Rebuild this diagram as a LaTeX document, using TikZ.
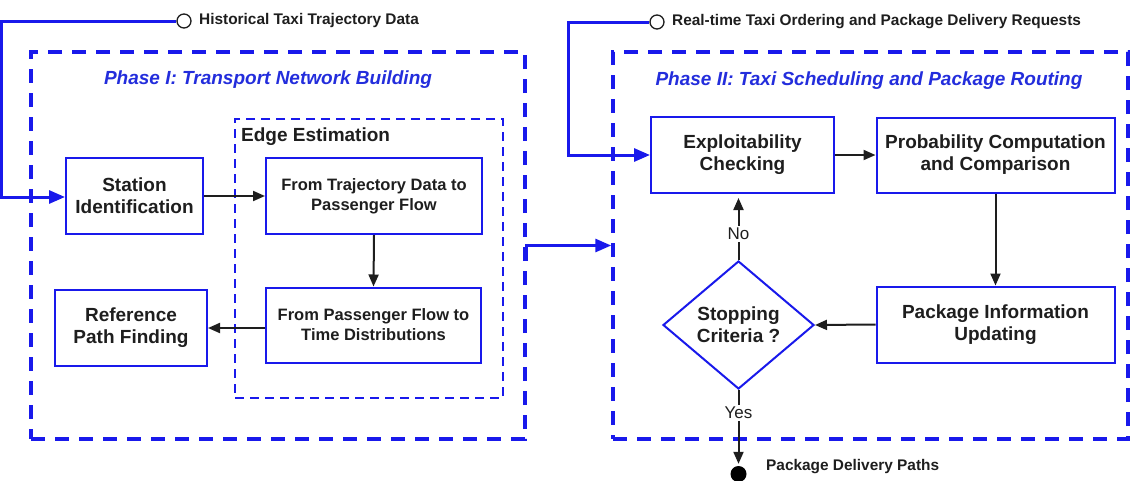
\documentclass[tikz,border=0pt]{standalone}
\usepackage{fontspec}
\setmainfont{Liberation Sans}
\usetikzlibrary{arrows.meta,calc,shapes.geometric}
\definecolor{bl}{RGB}{25,25,235}
\definecolor{tl}{RGB}{35,45,220}
\definecolor{tx}{RGB}{30,30,30}
\begin{document}
\begin{tikzpicture}[x=1pt,y=-1pt,
  box/.style={draw=bl,line width=2pt,rectangle,align=center,text=tx,
    font=\fontsize{19}{22}\selectfont\bfseries,inner sep=0pt},
  sbox/.style={box,font=\fontsize{16.5}{20}\selectfont\bfseries},
  phasebox/.style={draw=bl,line width=3.5pt,dash pattern=on 14pt off 10pt,rectangle,inner sep=0pt},
  edgebox/.style={draw=bl,line width=2.6pt,dash pattern=on 9pt off 6pt,rectangle,inner sep=0pt},
  conn/.style={draw=bl,line width=3pt,-{Triangle[length=16pt,width=13pt]}},
  arr/.style={draw=tx,line width=2pt,-{Triangle[length=12pt,width=10pt]}},
  lab/.style={text=tx,font=\fontsize{15.4}{18}\selectfont\bfseries,anchor=west,inner sep=0pt},
  ttl/.style={text=tl,font=\fontsize{19}{22}\selectfont\bfseries\itshape,inner sep=0pt},
  yn/.style={text=tx,font=\fontsize{17}{20}\selectfont,fill=white,inner sep=2pt},
  port/.style={circle,draw=tx,line width=1.3pt,fill=white,minimum size=14pt,inner sep=0pt}
]
\useasboundingbox (0,0) rectangle (1138,480);

% phase containers
\node[phasebox,minimum width=494pt,minimum height=387pt] (phase1) at (278,245.5) {};
\node[phasebox,minimum width=515pt,minimum height=387pt] (phase2) at (870.5,245.5) {};
\node[edgebox,minimum width=268pt,minimum height=279pt] (edge) at (369,258.5) {};

\node[ttl] (t1) at (268,80) {Phase I: Transport Network Building};
\node[ttl] (t2) at (869,81) {Phase II: Taxi Scheduling and Package Routing};
\node[text=tx,font=\fontsize{19}{22}\selectfont\bfseries,anchor=west,inner sep=0pt] (et) at (241,137) {Edge Estimation};

% phase I boxes
\node[box,minimum width=137pt,minimum height=76pt] (station) at (134.5,196) {Station\\Identification};
\node[sbox,minimum width=216pt,minimum height=76pt] (traj) at (374,196) {From Trajectory Data to\\Passenger Flow};
\node[sbox,minimum width=215pt,minimum height=75pt] (pass) at (373.5,325) {From Passenger Flow to\\Time Distributions};
\node[box,minimum width=152pt,minimum height=76pt] (ref) at (131,328) {Reference\\Path Finding};

% phase II boxes
\node[box,minimum width=183pt,minimum height=76pt] (expl) at (742.5,155) {Exploitability\\Checking};
\node[box,minimum width=238pt,minimum height=75pt] (prob) at (995.5,155) {Probability Computation\\and Comparison};
\node[box,minimum width=238pt,minimum height=76pt] (pkg) at (995.5,324.5) {Package Information\\Updating};
\node[diamond,draw=bl,line width=2pt,align=center,text=tx,font=\fontsize{19}{22}\selectfont\bfseries,
  inner sep=0pt,aspect=1.18,minimum width=151pt,minimum height=128pt] (stop) at (738.5,325) {Stopping\\Criteria ?};

% inputs / output
\node[port] (in1) at (184,21) {};
\node[lab] (in1l) at (199,21) {Historical Taxi Trajectory Data};
\node[port] (in2) at (657,22) {};
\node[lab] (in2l) at (672,22) {Real-time Taxi Ordering and Package Delivery Requests};
\node[circle,fill=black,minimum size=16pt,inner sep=0pt] (out) at (738.5,474) {};
\node[lab] (outl) at (766,467) {Package Delivery Paths};

\coordinate (c1a) at (1.5,21);
\coordinate (c1b) at (1.5,197);
\coordinate (c2a) at (568,22);
\coordinate (c2b) at (568,155);

% blue connectors
\draw[conn] (in1.west) -- (c1a) -- (c1b) -- (station.west |- c1b);
\draw[conn] (in2.west) -- (c2a) -- (c2b) -- (expl.west);
\draw[conn] ($(phase1.east)+(0,15)$) -- (phase1.east) -- (phase2.west);

% black arrows
\draw[arr] (station.east) -- (traj.west);
\draw[arr] (traj.south) -- (pass.north);
\draw[arr] (pass.west |- ref.east) -- (ref.east);
\draw[arr] (expl.east) -- (prob.west);
\draw[arr] (prob.south) -- (pkg.north);
\draw[arr] (pkg.west) -- (stop.east);
\draw[arr,shorten >=4pt] (stop.north) -- (stop.north |- expl.south) node[yn,pos=0.4] (no) {No};
\draw[arr,shorten >=2pt] (stop.south) -- (out.north) node[yn,pos=0.3] (yes) {Yes};
\end{tikzpicture}
\end{document}
